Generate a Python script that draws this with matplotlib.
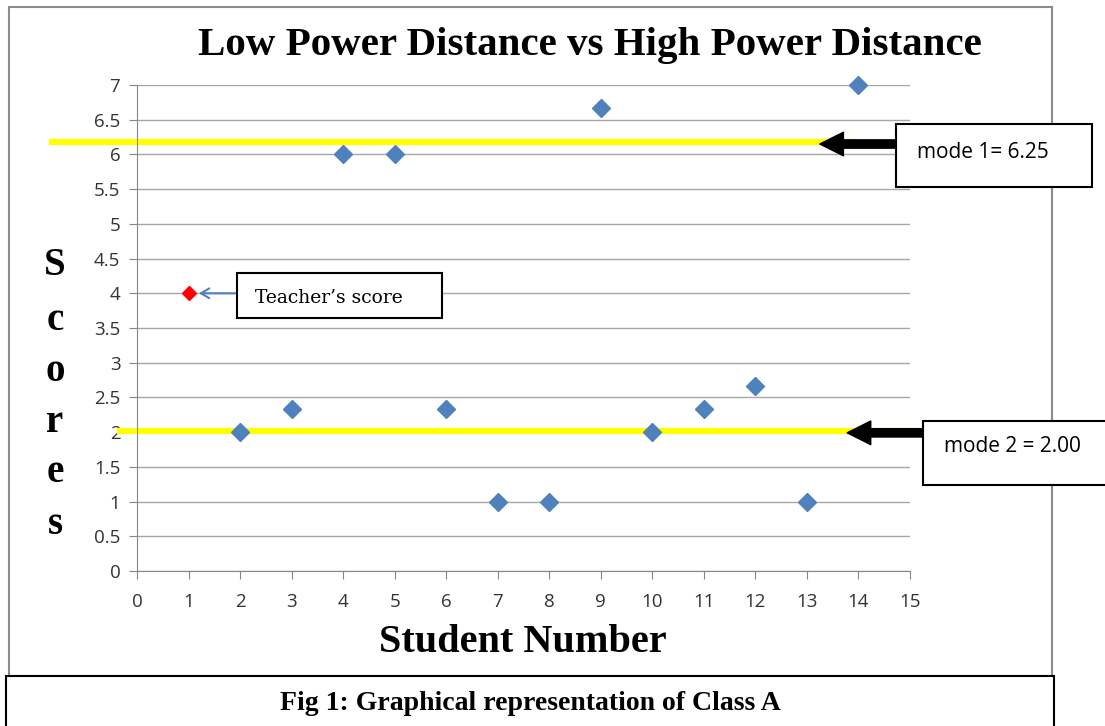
import matplotlib.pyplot as plt
from matplotlib.patches import Rectangle

# data
students = list(range(1, 15))
scores = [4, 2, 2.33, 6, 6, 2.33, 1, 1, 6.67, 2, 2.33, 2.67, 1, 7]
teacher_student = 1
teacher_score = 4
mode_levels = [6.18, 2.02]
mode_labels = ["mode 1= 6.25", "mode 2 = 2.00"]
y_ticks = [0, 0.5, 1, 1.5, 2, 2.5, 3, 3.5, 4, 4.5, 5, 5.5, 6, 6.5, 7]
x_ticks = list(range(0, 16))

W, H = 1105, 726
fig = plt.figure(figsize=(W / 100, H / 100), dpi=100)


def fx(px):
    return px / W


def fy(py):
    return 1 - py / H


# outer chart border and caption box
fig.patches.append(Rectangle((fx(9), fy(676)), fx(1052) - fx(9), fy(7) - fy(676),
                             transform=fig.transFigure, fill=False,
                             edgecolor='#8c8c8c', lw=1.5))
fig.patches.append(Rectangle((fx(6), fy(740)), fx(1054) - fx(6), fy(676) - fy(740),
                             transform=fig.transFigure, facecolor='white',
                             edgecolor='black', lw=1.5, zorder=5))

ax = fig.add_axes([fx(137), fy(571), fx(910) - fx(137), fy(85) - fy(571)])
ax.set_xlim(0, 15)
ax.set_ylim(0, 7)
ax.set_xticks(x_ticks)
ax.set_yticks(y_ticks)
ax.set_yticklabels([f"{t:g}" for t in y_ticks])
ax.grid(axis='y', color='#a6a6a6', lw=1)
ax.set_axisbelow(True)
for s in ['top', 'right']:
    ax.spines[s].set_visible(False)
for s in ['left', 'bottom']:
    ax.spines[s].set_color('#868686')
ax.tick_params(axis='both', colors='#868686', labelcolor='#333333',
               labelsize=13.5, length=6)
ax.tick_params(axis='x', pad=10)
ax.tick_params(axis='y', pad=6)
for lab in ax.get_xticklabels() + ax.get_yticklabels():
    lab.set_family('Open Sans')

# scores
ax.plot(students[1:], scores[1:], 'D', color='#4f81bd', ms=9, zorder=3,
        clip_on=False)
ax.plot([teacher_student], [teacher_score], 'D', color='#ff0000', ms=7, zorder=4,
        clip_on=False)

# mode lines
ax.plot([-1.65, 13.9], [mode_levels[0]] * 2, color='#ffff00', lw=4.5,
        clip_on=False, zorder=2)
ax.plot([-0.33, 15.23], [mode_levels[1]] * 2, color='#ffff00', lw=4.5,
        clip_on=False, zorder=2)

arrow = dict(arrowstyle='simple,head_length=0.85,head_width=0.85,tail_width=0.3',
             mutation_scale=20, fc='black', ec='black', shrinkA=0, shrinkB=0)
ax.annotate('', xy=(13.25, mode_levels[0] - 0.03), xytext=(14.75, mode_levels[0] - 0.03),
            arrowprops=arrow, annotation_clip=False)
ax.annotate('', xy=(13.78, mode_levels[1] - 0.03), xytext=(15.3, mode_levels[1] - 0.03),
            arrowprops=arrow, annotation_clip=False)

# teacher arrow
ax.annotate('', xy=(1.2, teacher_score), xytext=(1.95, teacher_score),
            arrowprops=dict(arrowstyle='->,head_length=0.6,head_width=0.35',
                            color='#4f81bd', lw=1.5, shrinkA=0, shrinkB=0),
            annotation_clip=False)

# text boxes
boxes = [(896, 124, 1092, 187), (923, 421, 1115, 485), (237, 273, 442, 318)]
for x0, y0, x1, y1 in boxes:
    fig.patches.append(Rectangle((fx(x0), fy(y1)), fx(x1) - fx(x0), fy(y0) - fy(y1),
                                 transform=fig.transFigure, facecolor='white',
                                 edgecolor='black', lw=1.5, zorder=6))
fig.text(fx(917), fy(152), mode_labels[0], family='Open Sans', fontsize=15,
         va='center', zorder=7)
fig.text(fx(944), fy(447), mode_labels[1], family='Open Sans', fontsize=15,
         va='center', zorder=7)
fig.text(fx(255), fy(298), "Teacher\u2019s score", family='DejaVu Serif', fontsize=13.5,
         va='center', zorder=7)

# titles
fig.text(fx(590), fy(45), "Low Power Distance vs High Power Distance",
         family='Liberation Serif', weight='bold', fontsize=29.5, ha='center', va='center')
fig.text(fx(523), fy(643), "Student Number", family='Liberation Serif',
         weight='bold', fontsize=29, ha='center', va='center')
for ch, py in zip("Scores", [265, 320, 372, 423, 473, 525]):
    fig.text(fx(55), fy(py), ch, family='Liberation Serif', weight='bold',
             fontsize=28, ha='center', va='center')
fig.text(fx(530), fy(703), "Fig 1: Graphical representation of Class A",
         family='Liberation Serif', weight='bold', fontsize=20, ha='center',
         va='center', zorder=7)

fig.savefig('out.png', dpi=100)
